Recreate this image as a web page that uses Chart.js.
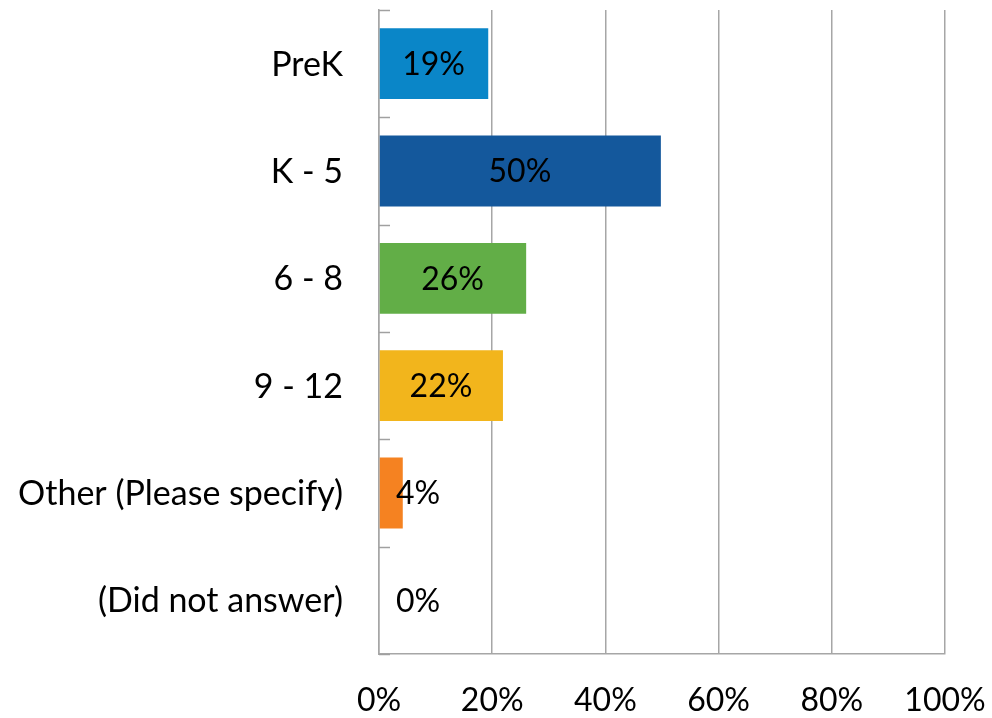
<!DOCTYPE html>
<html>
<head>
<meta charset="utf-8">
<script src="https://cdn.jsdelivr.net/npm/chart.js@4"></script>
<style>
html,body{margin:0;padding:0;background:#fff;}
#wrap{width:992px;height:718px;position:relative;}
</style>
</head>
<body>
<div id="wrap"><canvas id="c" width="992" height="718"></canvas></div>
<script>
const categories = ["PreK", "K - 5", "6 - 8", "9 - 12", "Other (Please specify)", "(Did not answer)"];
const values = [19.3, 49.8, 26.0, 21.9, 4.2, 0];
const barColors = ["#0A86C8", "#14589C", "#62AE47", "#F2B51C", "#F58221", "#C0504D"];
const xTicks = [0, 20, 40, 60, 80, 100];

const FONT = "Lato, 'Open Sans', sans-serif";
const CAT_SIZE = 34;
const NUM_SIZE = 32;
const PLOT_LEFT = 379;

const catTicks = {
  id: 'catTicks',
  afterDatasetsDraw(chart) {
    const ctx = chart.ctx, y = chart.scales.y, a = chart.chartArea;
    ctx.save();
    ctx.strokeStyle = '#a0a0a0';
    ctx.lineWidth = 1.5;
    const n = categories.length;
    for (let i = 0; i <= n; i++) {
      let py;
      if (i === 0) py = a.top;
      else if (i === n) py = a.bottom;
      else py = (y.getPixelForTick(i - 1) + y.getPixelForTick(i)) / 2;
      py = Math.round(py) + 0.5;
      ctx.beginPath();
      ctx.moveTo(a.left, py);
      ctx.lineTo(a.left + 11, py);
      ctx.stroke();
    }
    ctx.restore();
  }
};

const axisLabels = {
  id: 'axisLabels',
  afterDraw(chart) {
    const ctx = chart.ctx, x = chart.scales.x, y = chart.scales.y, a = chart.chartArea;
    ctx.save();
    ctx.fillStyle = '#000';
    ctx.textBaseline = 'middle';
    // category labels
    ctx.font = CAT_SIZE + "px " + FONT;
    ctx.textAlign = 'right';
    categories.forEach((c, i) => {
      ctx.fillText(c, a.left - 36, y.getPixelForTick(i) + 1);
    });
    // value axis labels
    ctx.font = NUM_SIZE + "px " + FONT;
    ctx.textAlign = 'center';
    xTicks.forEach(v => {
      ctx.fillText(v + '%', x.getPixelForValue(v), a.bottom + 47);
    });
    ctx.restore();
  }
};

const dataLabels = {
  id: 'dataLabels',
  afterDatasetsDraw(chart) {
    const ctx = chart.ctx, x = chart.scales.x, y = chart.scales.y;
    ctx.save();
    ctx.font = NUM_SIZE + "px " + FONT;
    ctx.fillStyle = '#000';
    ctx.textBaseline = 'middle';
    ctx.textAlign = 'left';
    values.forEach((v, i) => {
      const txt = Math.round(v) + '%';
      const w = ctx.measureText(txt).width;
      const x0 = x.getPixelForValue(0), x1 = x.getPixelForValue(v);
      let cx = (x0 + x1) / 2 - w / 2;
      cx = Math.max(cx, x0 + 17);
      ctx.fillText(txt, cx, y.getPixelForTick(i) + 1);
    });
    ctx.restore();
  }
};

new Chart(document.getElementById('c'), {
  type: 'bar',
  data: {
    labels: categories,
    datasets: [{
      data: values,
      backgroundColor: barColors,
      borderWidth: 0,
      categoryPercentage: 0.66,
      barPercentage: 1.0
    }]
  },
  options: {
    indexAxis: 'y',
    responsive: false,
    animation: false,
    devicePixelRatio: 1,
    layout: { padding: { top: 10, right: 47, bottom: 0, left: 0 } },
    plugins: { legend: { display: false }, tooltip: { enabled: false } },
    scales: {
      x: {
        min: 0, max: 100,
        afterBuildTicks(s) { s.ticks = xTicks.map(v => ({ value: v })); },
        grid: { color: '#a6a6a6', lineWidth: 1.5, drawTicks: false },
        border: { color: '#a6a6a6', width: 1.5 },
        ticks: { display: false },
        afterFit(s) { s.height = 64; }
      },
      y: {
        grid: { display: false },
        border: { color: '#a6a6a6', width: 1.5 },
        ticks: { display: false },
        afterFit(s) { s.width = PLOT_LEFT; }
      }
    }
  },
  plugins: [catTicks, dataLabels, axisLabels]
});
</script>
</body>
</html>
